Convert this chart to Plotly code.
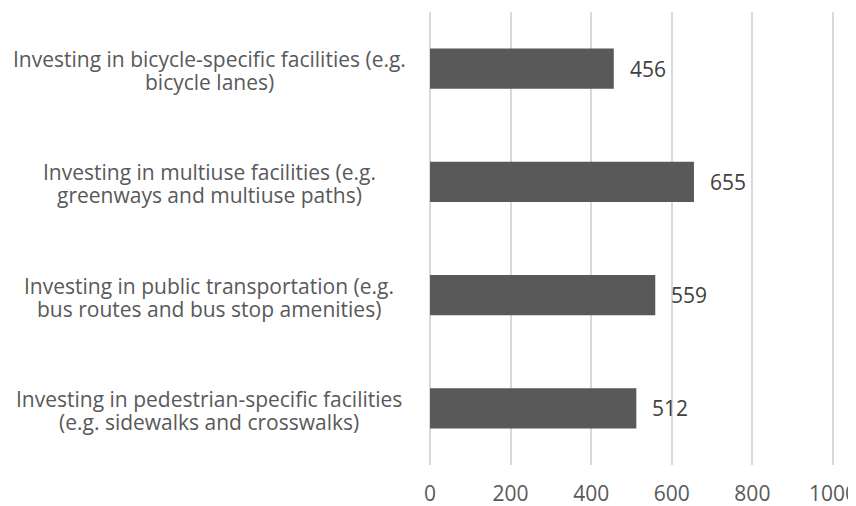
import plotly.graph_objects as go

categories = [
    "Investing in bicycle-specific facilities (e.g.<br>bicycle lanes)",
    "Investing in multiuse facilities (e.g.<br>greenways and multiuse paths)",
    "Investing in public transportation (e.g.<br>bus routes and bus stop amenities)",
    "Investing in pedestrian-specific facilities<br>(e.g. sidewalks and crosswalks)",
]
values = [456, 655, 559, 512]
x_ticks = [0, 200, 400, 600, 800, 1000]

FONT = "Open Sans"
GREY = "#595959"

fig = go.Figure(go.Bar(
    x=values, y=categories, orientation="h",
    marker=dict(color=GREY, line=dict(width=0)),
    width=0.355,
))

# value labels just right of each bar
for c, v in zip(categories, values):
    fig.add_annotation(x=v, y=c, text=str(v), showarrow=False,
                       xanchor="left", xshift=14,
                       font=dict(family=FONT, size=21, color="#404040"))

# centred two-line category labels, lines placed separately for tight spacing
for c in categories:
    lines = c.split("<br>")
    for i, line in enumerate(lines):
        fig.add_annotation(x=-0.5275, xref="paper", y=c, yref="y", text=line,
                           showarrow=False, xanchor="center",
                           yshift=(len(lines) - 1) / 2 * 23 - i * 23 - 2,
                           font=dict(family=FONT, size=21, color=GREY))

# the page body adds an 8px margin, so the figure is sized to fit the window;
# range padded a little so the 0 and 1000 gridlines are not clipped at the edges
fig.update_layout(
    width=848, height=498,
    margin=dict(l=418, r=19, t=4, b=41, autoexpand=False),
    plot_bgcolor="white", paper_bgcolor="white",
    showlegend=False,
    font=dict(family=FONT, size=21, color=GREY),
)
fig.update_xaxes(range=[-10, 1010], tickvals=x_ticks, showgrid=True,
                 gridcolor="#d9d9d9", gridwidth=2, zeroline=False,
                 showline=False, ticks="", ticklabelstandoff=14,
                 ticklabeloverflow="allow")
fig.update_yaxes(autorange="reversed", showticklabels=False, showgrid=False,
                 zeroline=False, showline=False)

fig.write_html("out.html")
